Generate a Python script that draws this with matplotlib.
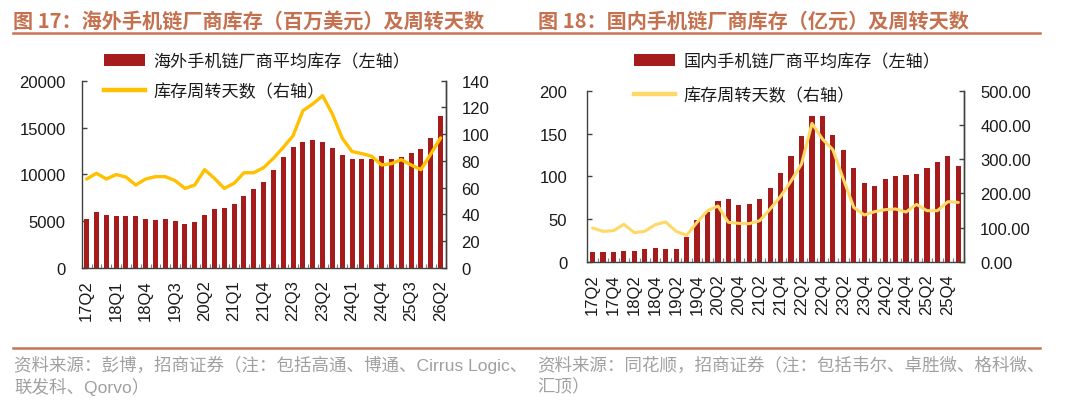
import matplotlib
matplotlib.use("Agg")
import matplotlib.pyplot as plt
from matplotlib.lines import Line2D
from matplotlib.patches import Patch
import numpy as np

plt.rcParams['font.family'] = ['Liberation Sans', 'Noto Sans CJK SC', 'DejaVu Sans']
CJK = ['Noto Sans CJK SC', 'DejaVu Sans']
MIXED = ['Liberation Sans', 'Noto Sans CJK SC', 'DejaVu Sans']

# ---------------- data: left chart (overseas) ----------------
left_quarters = ['17Q2', '17Q3', '17Q4', '18Q1', '18Q2', '18Q3', '18Q4', '19Q1', '19Q2', '19Q3',
                 '19Q4', '20Q1', '20Q2', '20Q3', '20Q4', '21Q1', '21Q2', '21Q3', '21Q4', '22Q1',
                 '22Q2', '22Q3', '22Q4', '23Q1', '23Q2', '23Q3', '23Q4', '24Q1', '24Q2', '24Q3',
                 '24Q4', '25Q1', '25Q2', '25Q3', '25Q4', '26Q1', '26Q2']
left_inventory = [5250, 5960, 5710, 5500, 5540, 5500, 5250, 5140, 5180, 5070,
                  4750, 4890, 5680, 6290, 6430, 6820, 7680, 8460, 9210, 10500,
                  11860, 12890, 13500, 13680, 13460, 12850, 12110, 11640, 11610, 11680,
                  11930, 11680, 11890, 12320, 12680, 13930, 16250]
left_days = [66.5, 70.8, 66.5, 69.8, 68.0, 62.0, 66.5, 68.3, 68.3, 65.3,
             59.5, 62.0, 73.5, 67.0, 59.5, 63.3, 71.2, 71.2, 75.0, 82.0,
             90.2, 98.9, 117.6, 122.6, 128.8, 115.0, 97.0, 87.0, 85.5, 83.5,
             77.0, 78.0, 81.0, 77.0, 73.5, 85.2, 97.2]
left_yticks = [0, 5000, 10000, 15000, 20000]
left_y2ticks = [0, 20, 40, 60, 80, 100, 120, 140]

# ---------------- data: right chart (domestic) ----------------
right_quarters = ['17Q2', '17Q3', '17Q4', '18Q1', '18Q2', '18Q3', '18Q4', '19Q1', '19Q2', '19Q3',
                  '19Q4', '20Q1', '20Q2', '20Q3', '20Q4', '21Q1', '21Q2', '21Q3', '21Q4', '22Q1',
                  '22Q2', '22Q3', '22Q4', '23Q1', '23Q2', '23Q3', '23Q4', '24Q1', '24Q2', '24Q3',
                  '24Q4', '25Q1', '25Q2', '25Q3', '25Q4', '26Q1']
right_inventory = [11.3, 11.3, 11.7, 12.5, 12.8, 15.2, 16.0, 15.2, 15.2, 29.6,
                   49.4, 58.0, 70.8, 73.2, 66.9, 68.1, 73.9, 86.0, 103.5, 123.7,
                   147.5, 170.4, 170.0, 148.6, 130.4, 110.0, 91.8, 89.1, 96.5, 100.8,
                   101.2, 103.1, 109.7, 116.7, 123.3, 111.7]
right_days = [99.2, 89.5, 91.4, 110.0, 85.6, 89.5, 109.0, 116.7, 89.5, 77.8,
              115.8, 149.8, 163.4, 115.8, 112.8, 111.9, 120.6, 154.7, 191.6, 236.4,
              286.0, 404.7, 359.0, 327.8, 242.2, 159.5, 137.2, 146.9, 152.7, 154.7,
              145.9, 168.3, 149.8, 149.8, 176.0, 174.0]
right_yticks = [0, 50, 100, 150, 200]
right_y2ticks = [0, 100, 200, 300, 400, 500]

title_left = '图 17：海外手机链厂商库存（百万美元）及周转天数'
title_right = '图 18：国内手机链厂商库存（亿元）及周转天数'
legend_left = ['海外手机链厂商平均库存（左轴）', '库存周转天数（右轴）']
legend_right = ['国内手机链厂商平均库存（左轴）', '库存周转天数（右轴）']
source_left = ['资料来源：彭博，招商证券（注：包括高通、博通、Cirrus Logic、', '联发科、Qorvo）']
source_right = ['资料来源：同花顺，招商证券（注：包括韦尔、卓胜微、格科微、', '汇顶）']

BAR = '#A61C1C'
LINE_L = '#FFC000'
LINE_R = '#FFD966'
TITLE_C = '#C5714F'
SPINE = '#404040'
SRC_C = '#A0A0A0'

W, H = 1080, 402
fig = plt.figure(figsize=(W / 100, H / 100), dpi=100)


def fx(px):
    return px / W


def fy(py):
    return 1 - py / H


def make_chart(rect, cats, bars, days, yt, y2t, y2fmt, label_step, line_color, lw,
               lpad, rpad, legend_labels, legend_xy, label_spacing):
    ax = fig.add_axes(rect)
    x = np.arange(len(cats))
    ax.bar(x, bars, width=0.5, color=BAR, zorder=2)
    ax.set_xlim(-0.5, len(cats) - 0.5)
    ax.set_ylim(yt[0], yt[-1])
    ax.set_yticks(yt)
    ax.set_yticklabels([str(v) for v in yt])
    ax.spines['top'].set_visible(False)
    for s in ['left', 'right', 'bottom']:
        ax.spines[s].set_color(SPINE)
        ax.spines[s].set_linewidth(1.0)
    ax.tick_params(axis='y', direction='in', length=3.5, width=1, color=SPINE,
                   labelsize=12, pad=lpad, labelcolor='#1a1a1a')
    major = x[::label_step]
    ax.set_xticks(major)
    ax.set_xticklabels([cats[i] for i in major], rotation=90, fontsize=12, color='#1a1a1a')
    ax.set_xticks(np.arange(len(cats) + 1) - 0.5, minor=True)
    ax.tick_params(axis='x', which='major', length=0, pad=8)
    ax.tick_params(axis='x', which='minor', direction='in', length=3, width=0.8, color='#808080')

    ax2 = ax.twinx()
    ax2.plot(x, days, color=line_color, lw=lw, solid_joinstyle='round',
             solid_capstyle='round', zorder=3)
    ax2.set_ylim(y2t[0], y2t[-1])
    ax2.set_yticks(y2t)
    ax2.set_yticklabels([y2fmt(v) for v in y2t])
    ax2.spines['top'].set_visible(False)
    ax2.spines['left'].set_visible(False)
    ax2.spines['bottom'].set_visible(False)
    ax2.spines['right'].set_color(SPINE)
    ax2.spines['right'].set_linewidth(1.0)
    ax2.tick_params(axis='y', direction='in', length=3.5, width=1, color=SPINE,
                    labelsize=12, pad=rpad, labelcolor='#1a1a1a')

    handles = [Patch(facecolor=BAR, edgecolor='none'),
               Line2D([0], [0], color=line_color, lw=3.2)]
    leg = ax2.legend(handles, legend_labels, loc='upper left',
                     bbox_to_anchor=(fx(legend_xy[0]), fy(legend_xy[1])),
                     bbox_transform=fig.transFigure, frameon=False, borderpad=0,
                     borderaxespad=0, handlelength=2.4, handleheight=0.75,
                     handletextpad=0.5, labelspacing=label_spacing,
                     prop={'family': CJK, 'size': 12.3})
    for t in leg.get_texts():
        t.set_color('#1a1a1a')
    return ax, ax2


# left chart
make_chart([fx(81.7), fy(269), fx(445.5) - fx(81.7), fy(81.7) - fy(269)],
           left_quarters, left_inventory, left_days, left_yticks, left_y2ticks,
           lambda v: str(v), 3, LINE_L, 2.4, 11.5, 11.5, legend_left, (104, 53), 0.7)

# right chart
make_chart([fx(587.3), fy(263), fx(963.5) - fx(587.3), fy(91.7) - fy(263)],
           right_quarters, right_inventory, right_days, right_yticks, right_y2ticks,
           lambda v: f'{v:.2f}', 2, LINE_R, 2.2, 14.5, 12, legend_right, (634, 53), 0.95)

# titles
fig.text(fx(13), fy(21), title_left, family=CJK, fontsize=14.5, color=TITLE_C,
         weight='bold', va='center', ha='left')
fig.text(fx(538), fy(21), title_right, family=CJK, fontsize=14.5, color=TITLE_C,
         weight='bold', va='center', ha='left')
fig.add_artist(Line2D([fx(13), fx(1040)], [fy(34), fy(34)], color='#C87455', lw=1.8))

# sources
fig.add_artist(Line2D([fx(13), fx(1040)], [fy(349), fy(349)], color='#C87455', lw=1.8))
for i, line in enumerate(source_left):
    fig.text(fx(14), fy(365 + 22 * i), line, family=MIXED, fontsize=12.6, color=SRC_C,
             va='center', ha='left')
for i, line in enumerate(source_right):
    fig.text(fx(537), fy(365 + 22 * i), line, family=MIXED, fontsize=12.6, color=SRC_C,
             va='center', ha='left')

fig.savefig('out.png', dpi=100)
